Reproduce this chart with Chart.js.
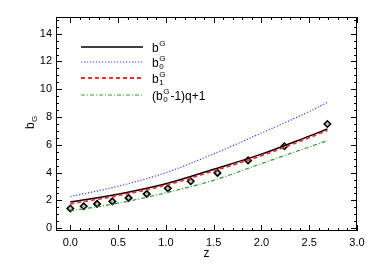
<!DOCTYPE html>
<html>
<head>
<meta charset="utf-8">
<script src="https://cdn.jsdelivr.net/npm/chart.js@4/dist/chart.umd.min.js"></script>
<style>
  html, body { margin: 0; padding: 0; background: #fff; }
  #wrap { width: 374px; height: 267px; }
</style>
</head>
<body>
<div id="wrap"><canvas id="biasChart" width="374" height="267"></canvas></div>
<script>
// curves sampled along z
const zCurve = [0.0, 0.5, 1.0, 1.5, 2.0, 2.5, 2.69];
const bG = [1.88, 2.45, 3.2, 4.24, 5.33, 6.63, 7.14];
const bG0 = [2.28, 3.02, 4.0, 5.35, 6.85, 8.4, 9.06];
const bG1 = [1.76, 2.35, 3.1, 4.13, 5.22, 6.52, 7.04];
const bGq = [1.25, 1.8, 2.55, 3.45, 4.65, 5.85, 6.3];

// measured points (diamonds)
const zPts = [0.0, 0.14, 0.28, 0.44, 0.61, 0.80, 1.02, 1.26, 1.54, 1.86, 2.24, 2.69];
const bPts = [1.42, 1.58, 1.75, 1.93, 2.18, 2.47, 2.87, 3.38, 3.98, 4.88, 5.9, 7.5];

const xTicks = [0.0, 0.5, 1.0, 1.5, 2.0, 2.5, 3.0];
const yTicks = [0, 2, 4, 6, 8, 10, 12, 14];

const FONT = 'Liberation Sans, Arial, sans-serif';

function xy(xs, ys) { return xs.map((x, i) => ({ x: x, y: ys[i] })); }

const legendItems = [
    { color: '#000000', dash: [], width: 1.5, base: 'b', sup: 'G', sub: '', tail: '' },
    { color: '#3b3bff', dash: [1.2, 1.8], width: 1.2, base: 'b', sup: 'G', sub: '0', tail: '' },
    { color: '#ff2a2a', dash: [4, 3], width: 1.8, base: 'b', sup: 'G', sub: '1', tail: '' },
    { color: '#2e9a2e', dash: [4, 2, 1, 2], width: 1.2, base: '(b', sup: 'G', sub: '0', tail: '-1)q+1' }
];

// box, inward ticks, axis titles and legend drawn on top
const boxPlugin = {
    id: 'boxPlugin',
    afterDraw(chart) {
        const ctx = chart.ctx;
        const a = chart.chartArea;
        const xs = chart.scales.x, ys = chart.scales.y;
        ctx.save();
        ctx.strokeStyle = '#000';
        ctx.lineWidth = 1;
        ctx.strokeRect(a.left + 0.5, a.top + 0.5, a.right - a.left - 1, a.bottom - a.top - 1);
        ctx.beginPath();
        for (let v = 0; v <= 3.0001; v += 0.1) {
            const px = Math.round(xs.getPixelForValue(v)) + 0.5;
            const major = Math.abs(v / 0.5 - Math.round(v / 0.5)) < 1e-6;
            const len = major ? 6 : 3;
            ctx.moveTo(px, a.bottom); ctx.lineTo(px, a.bottom - len);
            ctx.moveTo(px, a.top); ctx.lineTo(px, a.top + len);
        }
        for (let v = 0; v <= 15.0001; v += 0.5) {
            const py = Math.round(ys.getPixelForValue(v)) + 0.5;
            const major = Math.abs(v / 2 - Math.round(v / 2)) < 1e-6;
            const len = major ? 6 : 3;
            ctx.moveTo(a.left, py); ctx.lineTo(a.left + len, py);
            ctx.moveTo(a.right, py); ctx.lineTo(a.right - len, py);
        }
        ctx.stroke();

        // axis titles
        ctx.fillStyle = '#000';
        ctx.font = '12px ' + FONT;
        ctx.textAlign = 'center';
        ctx.textBaseline = 'alphabetic';
        ctx.fillText('z', (a.left + a.right) / 2, 257);
        ctx.save();
        ctx.translate(34, 123);
        ctx.rotate(-Math.PI / 2);
        ctx.textAlign = 'left';
        ctx.fillText('b', -6, 0);
        ctx.font = '8px ' + FONT;
        ctx.fillText('G', 1, 3);
        ctx.restore();

        // legend
        const rowY = [47, 62, 78, 95];
        legendItems.forEach((it, i) => {
            const y = rowY[i];
            ctx.beginPath();
            ctx.strokeStyle = it.color;
            ctx.lineWidth = it.width;
            ctx.setLineDash(it.dash);
            ctx.moveTo(81, y); ctx.lineTo(143, y);
            ctx.stroke();
            ctx.setLineDash([]);
            ctx.fillStyle = '#000';
            ctx.textAlign = 'left';
            ctx.font = '12px ' + FONT;
            let x = 152;
            ctx.fillText(it.base, x, y + 5);
            x += ctx.measureText(it.base).width + 0.5;
            ctx.font = '8px ' + FONT;
            ctx.fillText(it.sup, x, y - 1);
            let w = ctx.measureText(it.sup).width;
            if (it.sub) {
                ctx.fillText(it.sub, x, y + 7);
                w = Math.max(w, ctx.measureText(it.sub).width);
            }
            x += w + 1;
            if (it.tail) {
                ctx.font = '12px ' + FONT;
                ctx.fillText(it.tail, x, y + 5);
            }
        });
        ctx.restore();
    }
};

const lineSet = (label, ys, color, dash, width) => ({
    label: label,
    data: xy(zCurve, ys),
    showLine: true,
    borderColor: color,
    borderDash: dash,
    borderWidth: width,
    pointRadius: 0,
    cubicInterpolationMode: 'monotone',
    fill: false
});

const ctx = document.getElementById('biasChart').getContext('2d');
new Chart(ctx, {
    type: 'scatter',
    data: {
        datasets: [
            lineSet('bG0', bG0, '#3b3bff', [1.2, 1.8], 1.2),
            lineSet('bGq', bGq, '#2e9a2e', [4, 2, 1, 2], 1.2),
            lineSet('bG1', bG1, '#ff2a2a', [4, 3], 1.8),
            lineSet('bG', bG, '#000000', [], 1.5),
            {
                label: 'points',
                data: xy(zPts, bPts),
                showLine: false,
                pointStyle: 'rectRot',
                pointRadius: 3.2,
                pointBorderWidth: 1.6,
                pointBorderColor: '#000',
                pointBackgroundColor: 'rgba(150,150,150,0.6)'
            }
        ]
    },
    options: {
        responsive: false,
        animation: false,
        layout: { padding: { left: 0, right: 17, top: 17, bottom: 0 } },
        plugins: {
            legend: { display: false },
            tooltip: { enabled: false }
        },
        scales: {
            x: {
                type: 'linear',
                min: -0.15,
                max: 3.0,
                afterBuildTicks: s => { s.ticks = xTicks.map(v => ({ value: v })); },
                afterFit: s => { s.height = 36; },
                grid: { display: false, drawTicks: false },
                border: { display: false },
                ticks: {
                    color: '#000',
                    padding: 5,
                    font: { family: FONT, size: 11 },
                    callback: v => Number(v).toFixed(1)
                }
            },
            y: {
                type: 'linear',
                min: -0.2,
                max: 15.2,
                afterBuildTicks: s => { s.ticks = yTicks.map(v => ({ value: v })); },
                afterFit: s => { s.width = 56; },
                grid: { display: false, drawTicks: false },
                border: { display: false },
                ticks: {
                    color: '#000',
                    padding: 4,
                    font: { family: FONT, size: 11 },
                    callback: v => String(v)
                }
            }
        }
    },
    plugins: [boxPlugin]
});
</script>
</body>
</html>
